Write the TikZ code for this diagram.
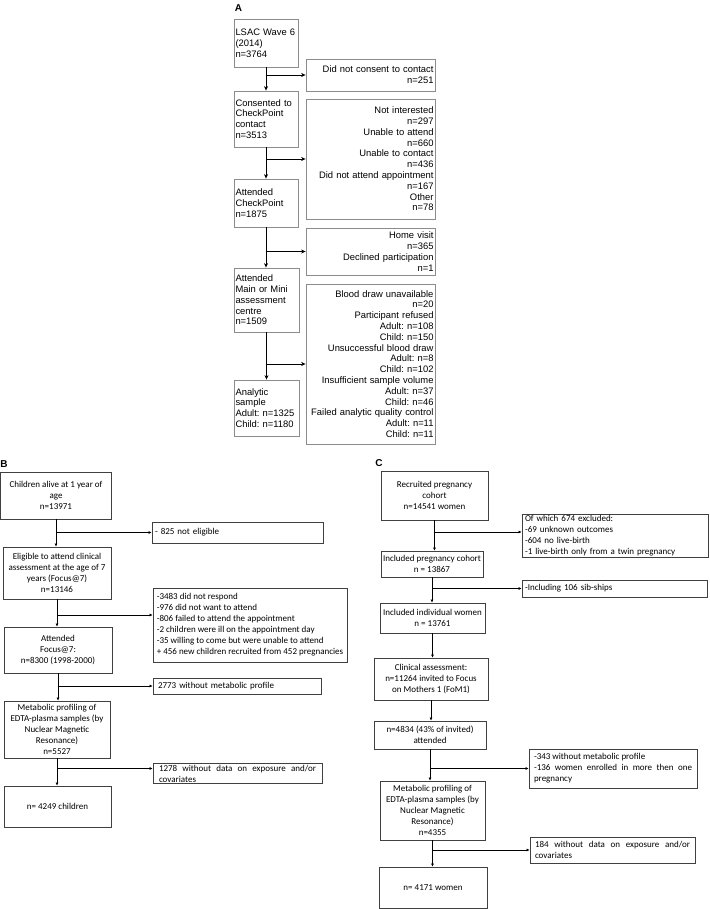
\documentclass[tikz,border=0pt]{standalone}
\usepackage{fontspec}
\newfontfamily\arialfont{Liberation Sans}
\newfontfamily\calibfont{Carlito}
\usetikzlibrary{arrows.meta,calc}
\hyphenpenalty=10000
\exhyphenpenalty=10000
\tolerance=10000
\frenchspacing

\begin{document}
\begin{tikzpicture}[x=1pt,y=-1pt,
	boxa/.style={draw=black!45,line width=0.8pt,inner xsep=1.5pt,inner ysep=1pt,align=left,font=\arialfont\fontsize{9.4}{10.8}\selectfont},
	sidea/.style={boxa,align=right},
	boxb/.style={draw=black!75,line width=0.8pt,inner xsep=2pt,inner ysep=1pt,align=center,font=\calibfont\fontsize{9}{11}\selectfont},
	sideb/.style={boxb,align=left,inner xsep=3pt},
	flow/.style={line width=0.7pt,-{Stealth[length=4.5pt,width=4pt]}},
	flowb/.style={line width=1pt,-{Latex[length=3pt,width=3pt]}},
	lett/.style={font=\arialfont\bfseries\fontsize{10}{12}\selectfont}
	]
	\useasboundingbox (0,0) rectangle (709,909);
	
	% panel A
	\node[lett] (la) at (238.5,8) {A};
	\node[boxa,text width=61pt,minimum height=48pt] (lsac) at (266,43) {LSAC Wave 6\\(2014)\\n=3764};
	\node[boxa,text width=61pt,minimum height=56pt] (cons) at (266,119) {Consented to\\CheckPoint\\contact\\n=3513};
	\node[boxa,text width=61pt,minimum height=48pt] (attc) at (266,203) {Attended\\CheckPoint\\n=1875};
	\node[boxa,text width=62pt,minimum height=64pt] (attm) at (266.5,300) {Attended\\Main or Mini\\assessment\\centre\\n=1509};
	\node[boxa,text width=62pt,minimum height=56pt] (anal) at (266.5,408) {Analytic\\sample\\Adult: n=1325\\Child: n=1180};
	
	\node[sidea,text width=126pt,minimum height=32pt] (dnc) at (370.5,75) {Did not consent to contact\\n=251};
	\node[sidea,text width=126pt,minimum height=120pt] (noti) at (370.5,159) {Not interested\\n=297\\Unable to attend\\n=660\\Unable to contact\\n=436\\Did not attend appointment\\n=167\\Other\\n=78};
	\node[sidea,text width=126pt,minimum height=47pt] (home) at (370.5,251.5) {Home visit\\n=365\\Declined participation\\n=1};
	\node[sidea,text width=126pt,minimum height=160pt] (blood) at (370.5,364) {Blood draw unavailable\\n=20\\Participant refused\\Adult: n=108\\Child: n=150\\Unsuccessful blood draw\\Adult: n=8\\Child: n=102\\Insufficient sample volume\\Adult: n=37\\Child: n=46\\Failed analytic quality control\\Adult: n=11\\Child: n=11};
	
	\draw[flow] (lsac.south) -- (lsac.south |- cons.north);
	\draw[flow] (cons.south) -- (cons.south |- attc.north);
	\draw[flow] (attc.south) -- (attc.south |- attm.north);
	\draw[flow] (attm.south) -- (attm.south |- anal.north);
	\draw[flow] (lsac.south |- dnc.west) -- (dnc.west);
	\draw[flow] (cons.south |- noti.west) -- (noti.west);
	\draw[flow] (attc.south |- home.west) -- (home.west);
	\draw[flow] (attm.south |- blood.west) -- (blood.west);
	
	% panel B
	\node[lett] (lb) at (4,464) {B};
	\node[boxb,minimum width=111pt,minimum height=47pt] (chal) at (56,495.5) {Children alive at 1 year of\\age\\n=13971};
	\node[boxb,minimum width=108pt,minimum height=52pt] (elig) at (57,573) {Eligible to attend clinical\\assessment at the age of 7\\years (Focus@7)\\n=13146};
	\node[boxb,minimum width=108pt,minimum height=46pt] (attf) at (58,650) {Attended\\Focus@7:\\n=8300 (1998-2000)};
	\node[boxb,minimum width=106pt,minimum height=57pt] (metb) at (57,729.5) {Metabolic profiling of\\EDTA-plasma samples (by\\Nuclear Magnetic\\Resonance)\\n=5527};
	\node[boxb,minimum width=107pt,minimum height=41pt] (finb) at (57.5,806.5) {n= 4249 children};
	
	\node[sideb,text width=165pt,minimum height=21pt] (nelig) at (237.5,532.5) {- 825 not eligible};
	\node[sideb,inner xsep=2pt,minimum width=194pt,minimum height=74pt] (resp) at (250,625) {-3483 did not respond\\-976 did not want to attend\\-806 failed to attend the appointment\\-2 children were ill on the appointment day\\-35 willing to come but were unable to attend\\+ 456 new children recruited from 452 pregnancies};
	\node[sideb,inner xsep=5pt,text width=158pt,minimum height=16pt] (nomet) at (237,686) {2773 without metabolic profile};
	\node[sideb,align=justify,inner xsep=6pt,text width=157pt,minimum height=19pt] (nodat) at (237.5,773.5) {1278 without data on exposure and/or covariates};
	
	\coordinate (rb) at ([yshift=10pt]resp.west);
	\coordinate (db) at ([yshift=5pt]nodat.west);
	\draw[flowb] (chal.south) -- (chal.south |- elig.north);
	\draw[flowb] (elig.south) -- (elig.south |- attf.north);
	\draw[flowb] (attf.south) -- (attf.south |- metb.north);
	\draw[flowb] (metb.south) -- (metb.south |- finb.north);
	\draw[flowb] (chal.south |- nelig.west) -- (nelig.west);
	\draw[flowb] (elig.south |- rb) -- (rb);
	\draw[flowb] (attf.south |- nomet.west) -- (nomet.west);
	\draw[flowb] (metb.south |- db) -- (db);
	
	% panel C
	\node[lett] (lc) at (379,463) {C};
	\node[boxb,minimum width=107pt,minimum height=49pt] (recr) at (434.5,495.5) {Recruited pregnancy\\cohort\\n=14541 women};
	\node[boxb,minimum width=102pt,minimum height=26pt] (incp) at (432,564) {Included pregnancy cohort\\n = 13867};
	\node[boxb,minimum width=105pt,minimum height=30pt] (inci) at (432.5,618) {Included individual women\\n = 13761};
	\node[boxb,minimum width=114pt,minimum height=42pt] (clin) at (431,679) {Clinical assessment:\\n=11264 invited to Focus\\on Mothers 1 (FoM1)};
	\node[boxb,minimum width=112pt,minimum height=28pt] (attn) at (430,735) {n=4834 (43\% of invited)\\attended};
	\node[boxb,minimum width=105pt,minimum height=59pt] (metc) at (432.5,810.5) {Metabolic profiling of\\EDTA-plasma samples (by\\Nuclear Magnetic\\Resonance)\\n=4355};
	\node[boxb,minimum width=108pt,minimum height=41pt] (finc) at (433,887.5) {n= 4171 women};
	
	\node[sideb,text width=180pt,minimum height=43pt] (excl) at (615,535.5) {Of which 674 excluded:\\-69 unknown outcomes\\-604 no live-birth\\-1 live-birth only from a twin pregnancy};
	\node[sideb,text width=179pt,minimum height=17pt] (sib) at (614.5,588.5) {-Including 106 sib-ships};
	\node[sideb,align=justify,inner xsep=5pt,text width=158pt,minimum height=39pt] (nometc) at (613,768.5) {-343 without metabolic profile\\-136 women enrolled in more then one pregnancy};
	\node[sideb,align=justify,inner xsep=5pt,text width=155pt,minimum height=26pt] (nodatc) at (612.5,850) {184 without data on exposure and/or covariates};
	
	\coordinate (ec) at ([yshift=3.5pt]excl.west);
	\draw[flowb] (recr.south) -- (recr.south |- incp.north);
	\draw[flowb] (incp.south) -- (incp.south |- inci.north);
	\draw[flowb] (inci.south) -- (inci.south |- clin.north);
	\draw[flowb] (clin.south) -- (clin.south |- attn.north);
	\draw[flowb] (attn.south) -- (attn.south |- metc.north);
	\draw[flowb] (metc.south) -- (metc.south |- finc.north);
	\draw[flowb] (recr.south |- ec) -- (ec);
	\draw[flowb] (incp.south |- sib.west) -- (sib.west);
	\draw[flowb] (attn.south |- nometc.west) -- (nometc.west);
	\draw[flowb] (metc.south |- nodatc.west) -- (nodatc.west);
\end{tikzpicture}
\end{document}
